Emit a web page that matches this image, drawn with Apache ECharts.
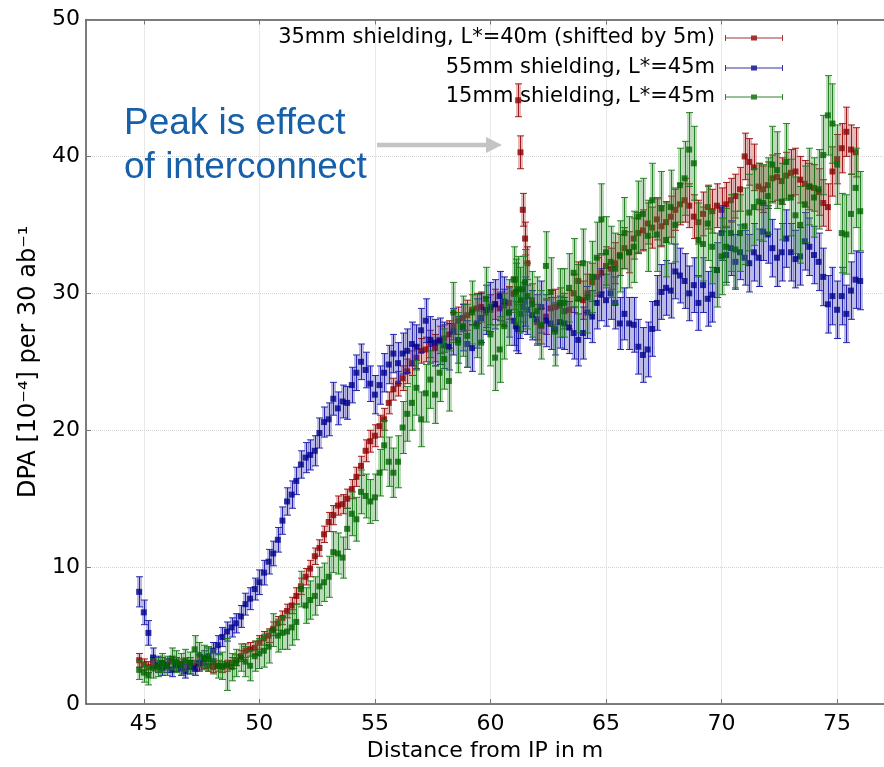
<!DOCTYPE html>
<html><head><meta charset="utf-8">
<script src="https://cdn.jsdelivr.net/npm/echarts@6/dist/echarts.min.js"></script>
<style>html,body{margin:0;padding:0;background:#fff}#c{width:884px;height:767px}</style>
</head><body><div id="c"></div>
<script>
// Distance from IP in m (bin positions)
const distance = [44.8,
45.0,45.2,45.4,45.6,45.8, 46.0,46.2,46.4,46.6,46.8, 47.0,47.2,47.4,47.6,47.8,
48.0,48.2,48.4,48.6,48.8, 49.0,49.2,49.4,49.6,49.8, 50.0,50.2,50.4,50.6,50.8,
51.0,51.2,51.4,51.6,51.8, 52.0,52.2,52.4,52.6,52.8, 53.0,53.2,53.4,53.6,53.8,
54.0,54.2,54.4,54.6,54.8, 55.0,55.2,55.4,55.6,55.8, 56.0,56.2,56.4,56.6,56.8,
57.0,57.2,57.4,57.6,57.8, 58.0,58.2,58.4,58.6,58.8, 59.0,59.2,59.4,59.6,59.8,
60.0,60.2,60.4,60.6,60.8, 61.0,61.1,61.2,61.3,61.4,61.5,61.6,61.8,
62.0,62.2,62.4,62.6,62.8, 63.0,63.2,63.4,63.6,63.8, 64.0,64.2,64.4,64.6,64.8,
65.0,65.2,65.4,65.6,65.8, 66.0,66.2,66.4,66.6,66.8, 67.0,67.2,67.4,67.6,67.8,
68.0,68.2,68.4,68.6,68.8, 69.0,69.2,69.4,69.6,69.8, 70.0,70.2,70.4,70.6,70.8,
71.0,71.2,71.4,71.6,71.8, 72.0,72.2,72.4,72.6,72.8, 73.0,73.2,73.4,73.6,73.8,
74.0,74.2,74.4,74.6,74.8, 75.0,75.2,75.4,75.6,75.8, 76.0];

// 35mm shielding, L*=40m (shifted by 5m)
const dpa35 = [3.2,
2.9,2.7,3.0,2.8,3.0, 2.9,3.1,2.8,2.9,2.8, 3.0,2.8,2.9,3.0,2.8,
2.7,2.8,2.7,2.8,3.0, 3.2,3.5,3.9,4.0,4.1, 4.5,4.8,5.0,5.5,5.9,
6.3,6.8,7.2,7.9,8.6, 9.3,9.9,10.8,11.4,12.4, 13.3,13.8,14.5,14.6,15.0,
15.7,16.6,17.4,18.5,19.2, 19.6,20.3,20.8,22.0,23.0, 23.4,23.8,24.3,24.9,25.3,
25.8,25.9,26.3,26.0,26.6, 26.7,27.0,27.6,28.0,28.2, 28.4,28.8,28.9,29.0,28.6,
28.8,29.2,28.9,29.1,29.3, 30.0,31.0,44.1,40.3,36.1,34.0,32.2,29.5,
27.9,27.6,28.3,28.9,29.0, 29.1,28.7,28.8,30.0,30.9, 29.5,30.0,30.8,31.2,31.5,
32.0,31.8,32.2,32.8,33.3, 33.0,34.0,34.4,34.6,35.1, 34.8,35.4,34.9,35.2,35.6,
36.1,36.5,36.8,36.4,35.6, 35.2,35.8,36.3,36.0,36.4, 36.1,36.5,36.8,37.1,37.6,
40.0,39.6,39.2,37.8,37.6, 37.9,38.4,38.5,38.2,38.6, 38.8,38.9,38.3,38.0,37.8,
37.7,37.4,36.6,36.3,38.9, 39.8,40.6,41.8,40.5,40.3, null];
const err35 = [0.5,
0.4,0.4,0.4,0.4,0.4, 0.4,0.4,0.4,0.4,0.4, 0.4,0.4,0.4,0.4,0.4,
0.4,0.4,0.4,0.4,0.4, 0.4,0.4,0.5,0.5,0.5, 0.5,0.5,0.5,0.5,0.5,
0.5,0.5,0.6,0.6,0.6, 0.6,0.6,0.6,0.6,0.6, 0.7,0.7,0.7,0.7,0.7,
0.7,0.7,0.7,0.8,0.8, 0.8,0.8,0.8,0.8,0.8, 0.9,0.9,0.9,0.9,0.9,
0.9,0.9,1.0,1.0,1.0, 1.0,1.0,1.0,1.0,1.0, 1.1,1.1,1.1,1.1,1.1,
1.1,1.1,1.2,1.2,1.2, 1.2,1.2,1.2,1.2,1.2,1.2,1.2,1.2,
1.3,1.3,1.3,1.3,1.3, 1.3,1.3,1.4,1.4,1.4, 1.4,1.4,1.4,1.4,1.4,
1.4,1.5,1.5,1.5,1.5, 1.5,1.5,1.5,1.5,1.5, 1.5,1.5,1.5,1.5,1.5,
1.5,1.5,1.6,1.6,1.6, 1.6,1.6,1.6,1.6,1.6, 1.6,1.6,1.6,1.6,1.6,
1.7,1.7,1.7,1.7,1.7, 1.7,1.7,1.7,1.7,1.7, 1.7,1.7,1.7,1.7,1.7,
1.7,1.7,1.7,1.7,1.8, 1.8,1.8,1.8,1.8,1.8, null];

// 55mm shielding, L*=45m
const dpa55 = [8.2,
6.7,5.2,3.4,2.9,2.6, 2.8,2.5,2.9,2.6,2.4, 2.7,2.6,3.0,3.3,3.5,
3.9,4.3,4.9,5.3,5.6, 5.9,6.4,7.3,7.7,8.4, 8.9,9.6,10.4,11.0,12.0,
13.4,14.8,15.3,16.3,17.5, 18.0,18.2,18.5,19.8,20.6, 20.8,22.3,21.6,22.1,22.0,
23.3,24.2,25.0,24.4,23.4, 22.6,23.3,24.2,24.8,25.6, 24.9,25.6,25.8,26.3,26.1,
27.3,28.0,26.6,26.4,26.5, 26.2,26.1,27.2,26.6,27.5, 26.3,26.0,27.8,28.2,28.8,
29.0,29.2,29.8,29.4,28.6, 28.0,27.6,27.4,28.5,29.0,29.4,28.8,28.4,
28.1,29.0,28.0,27.8,27.4, 27.9,27.8,27.5,27.1,26.6, 27.1,28.6,28.3,29.3,29.9,
29.5,30.0,29.3,27.8,28.5, 27.8,27.7,26.1,25.5,25.9, 27.4,29.3,30.1,30.4,30.2,
31.6,31.3,30.9,30.0,30.6, 29.3,30.6,29.6,29.9,31.7, 34.4,32.8,33.3,32.3,33.0,
32.6,32.2,33.0,32.6,34.5, 34.3,33.3,32.6,33.0,34.0, 33.0,32.5,32.7,33.8,33.4,
32.8,32.3,31.2,29.2,29.8, 28.8,29.8,28.5,30.2,31.0, 30.9];
const err55 = [1.1,
0.9,0.9,0.7,0.6,0.5, 0.5,0.5,0.5,0.5,0.5, 0.5,0.5,0.6,0.6,0.6,
0.6,0.7,0.7,0.7,0.7, 0.7,0.8,0.8,0.8,0.8, 0.9,0.9,0.9,0.9,0.9,
1.0,1.0,1.0,1.0,1.0, 1.1,1.1,1.1,1.1,1.1, 1.2,1.2,1.2,1.2,1.2,
1.3,1.3,1.3,1.3,1.3, 1.4,1.4,1.4,1.4,1.4, 1.5,1.5,1.6,1.6,1.6,
1.6,1.6,1.7,1.7,1.7, 1.7,1.7,1.7,1.7,1.7, 1.7,1.7,1.8,1.8,1.8,
1.8,1.8,1.8,1.8,1.8, 1.8,1.8,1.8,1.8,1.8,1.8,1.8,1.8,
1.8,1.9,1.9,1.9,1.9, 1.9,1.9,1.9,1.9,1.9, 1.9,1.9,1.9,1.9,1.9,
1.9,1.9,1.9,1.9,1.9, 1.9,2.0,2.0,2.0,2.0, 2.0,2.0,2.0,2.0,2.0,
2.0,2.0,2.0,2.0,2.0, 2.0,2.0,2.0,2.0,2.0, 2.0,2.0,2.0,2.0,2.0,
2.0,2.1,2.1,2.1,2.1, 2.1,2.1,2.1,2.1,2.1, 2.1,2.1,2.1,2.1,2.1,
2.1,2.1,2.1,2.1,2.1, 2.1,2.1,2.1,2.1,2.1, 2.1];

// 15mm shielding, L*=45m
const dpa15 = [2.5,
2.3,2.1,2.6,2.7,3.0, 2.8,3.3,3.1,2.9,3.2, 3.0,4.0,3.6,3.4,3.3,
3.1,2.8,2.8,2.9,2.7, 3.0,3.4,3.1,2.8,3.5, 3.7,3.9,4.2,5.4,5.0,
5.2,5.3,5.6,6.0,8.4, 7.2,7.6,7.9,8.6,8.9, 9.3,11.1,11.0,10.7,12.8,
13.9,13.5,15.5,15.2,14.8, 15.1,16.9,18.9,17.7,16.9, 17.7,20.2,21.2,22.0,23.1,
20.8,22.7,23.7,22.6,24.2, 25.2,23.6,28.6,26.4,27.6, 26.9,28.6,27.6,26.4,29.6,
27.0,25.3,25.9,27.6,28.6, 31.0,30.1,30.3,29.5,30.3,30.8,29.8,29.2,
28.7,27.7,32.0,30.1,27.2, 29.3,29.3,30.4,31.5,29.6, 32.2,29.7,31.2,32.6,35.4,
33.0,32.3,31.8,32.7,34.4, 33.0,33.4,35.6,35.8,34.2, 36.8,34.3,36.2,33.9,36.3,
35.0,37.9,38.4,40.5,39.5, 33.9,33.6,35.1,33.4,31.7, 32.7,33.4,34.4,33.2,34.4,
34.9,35.9,36.3,36.7,36.6, 37.1,39.4,39.0,36.7,39.6, 37.0,35.7,35.0,36.5,37.8,
37.0,37.6,40.1,43.0,42.4, 39.4,34.4,34.3,35.8,37.7, 36.0];
const err15 = [0.7,
0.7,0.7,0.7,0.7,0.7, 0.7,0.8,0.8,0.8,0.8, 0.8,1.0,0.9,0.9,0.9,
0.9,0.9,1.0,1.9,1.0, 1.0,1.0,1.1,1.1,1.1, 1.1,1.2,1.2,1.2,1.2,
1.2,1.3,1.3,1.3,1.3, 1.3,1.4,1.4,1.4,1.4, 1.5,1.5,1.5,1.5,1.5,
1.6,1.6,1.6,1.6,1.6, 1.7,1.7,1.8,1.8,1.8, 1.9,1.9,2.0,2.0,2.0,
2.0,2.1,2.1,2.1,2.1, 2.2,2.2,2.2,2.2,2.2, 2.3,2.3,2.3,2.3,2.3,
2.3,2.4,2.4,2.4,2.4, 2.4,2.4,2.4,2.4,2.4,2.4,2.4,2.4,
2.5,2.5,2.5,2.5,2.5, 2.5,2.5,2.5,2.5,2.5, 2.5,2.6,2.6,2.6,2.6,
2.6,2.6,2.6,2.6,2.6, 2.6,2.6,2.6,2.6,2.6, 2.7,2.7,2.7,2.7,2.7,
2.7,2.7,2.7,2.7,2.7, 2.7,2.7,2.7,2.7,2.7, 2.8,2.8,2.8,2.8,2.8,
2.8,2.8,2.8,2.8,2.8, 2.8,2.8,2.8,2.8,2.8, 2.8,2.8,2.8,2.8,2.8,
2.9,2.9,2.9,2.9,2.9, 2.9,2.9,2.9,2.9,2.9, 2.9];

const seriesNames = ['35mm shielding, L*=40m (shifted by 5m)', '55mm shielding, L*=45m', '15mm shielding, L*=45m'];
const xAxisTitle = 'Distance from IP in m';
const yAxisTitle = 'DPA [10\u207B\u2074] per 30 ab\u207B\u00B9';
const noteText = 'Peak is effect\nof interconnect';

function toPoints(ys, es) {
  const out = [];
  for (let i = 0; i < distance.length; i++) {
    if (ys[i] != null) out.push([distance[i], ys[i], es[i]]);
  }
  return out;
}

const sets = [
  { name: seriesNames[0], pts: toPoints(dpa35, err35), dark: '#8b0000', line: 'rgba(150,10,10,0.9)', band: 'rgba(170,40,40,0.32)' },
  { name: seriesNames[1], pts: toPoints(dpa55, err55), dark: '#00008b', line: 'rgba(20,20,170,0.9)', band: 'rgba(40,40,170,0.32)' },
  { name: seriesNames[2], pts: toPoints(dpa15, err15), dark: '#006400', line: 'rgba(20,120,20,0.9)', band: 'rgba(40,140,40,0.32)' }
];

function errRender(lineColor, bandColor) {
  return function (params, api) {
    const x = api.value(0), y = api.value(1), e = api.value(2);
    const top = api.coord([x, y + e]);
    const bot = api.coord([x, y - e]);
    const cx = Math.round(top[0]) + 0.5;
    return {
      type: 'group',
      children: [
        { type: 'rect', shape: { x: cx - 2.5, y: top[1], width: 5, height: bot[1] - top[1] }, style: { fill: bandColor } },
        { type: 'line', shape: { x1: cx, y1: top[1], x2: cx, y2: bot[1] }, style: { stroke: lineColor, lineWidth: 1 } },
        { type: 'line', shape: { x1: cx - 3.5, y1: top[1], x2: cx + 3.5, y2: top[1] }, style: { stroke: lineColor, lineWidth: 1 } },
        { type: 'line', shape: { x1: cx - 3.5, y1: bot[1], x2: cx + 3.5, y2: bot[1] }, style: { stroke: lineColor, lineWidth: 1 } }
      ]
    };
  };
}

const series = [];
sets.forEach(function (s, i) {
  series.push({
    type: 'custom', name: s.name + ' err', data: s.pts, encode: { x: 0, y: 1 },
    renderItem: errRender(s.line, s.band), z: 2 + i * 2, silent: true
  });
  series.push({
    type: 'scatter', name: s.name, data: s.pts, encode: { x: 0, y: 1 },
    symbol: 'rect', symbolSize: 6, itemStyle: { color: s.dark }, z: 3 + i * 2, silent: true
  });
});

const iconPath = 'path://M0,3.5L58,3.5L58,4.5L0,4.5Z M0,1L1,1L1,7L0,7Z M57,1L58,1L58,7L57,7Z M26,1.5L32,1.5L32,6.5L26,6.5Z';
const legendTops = [25.5, 55.5, 84.5];
const legends = seriesNames.map(function (n, i) {
  return {
    orient: 'vertical', right: 101, top: legendTops[i], align: 'right',
    itemWidth: 58, itemHeight: 8, selectedMode: false, padding: 0,
    textStyle: { fontFamily: 'DejaVu Sans', fontSize: 21, color: '#000', lineHeight: 25, padding: [0, 5, 0, 0] },
    data: [{ name: n, icon: iconPath }]
  };
});

const chart = echarts.init(document.getElementById('c'), null, { renderer: 'canvas' });
chart.setOption({
  animation: false,
  backgroundColor: '#fff',
  grid: { left: 86, right: 0, top: 19.5, bottom: 61.5, containLabel: false },
  legend: legends,
  xAxis: [{
    type: 'value', min: 42.5, max: 77.03, minInterval: 5, maxInterval: 5,
    name: xAxisTitle, nameLocation: 'middle', nameGap: 35,
    nameTextStyle: { fontFamily: 'DejaVu Sans', fontSize: 22, color: '#000' },
    axisLine: { show: true, onZero: false, lineStyle: { color: '#555', width: 1.5 } },
    axisTick: { show: true, inside: true, length: 5, lineStyle: { color: '#777' } },
    axisLabel: { fontFamily: 'DejaVu Sans', fontSize: 22, color: '#000', margin: 9, showMinLabel: false, showMaxLabel: false },
    splitLine: { show: true, lineStyle: { color: '#d4d4d4', type: 'dotted', width: 1 } }
  }, {
    type: 'value', position: 'top', min: 42.5, max: 77.03, minInterval: 5, maxInterval: 5,
    axisLine: { show: true, onZero: false, lineStyle: { color: '#555', width: 1.5 } },
    axisTick: { show: true, inside: true, length: 5, lineStyle: { color: '#777' } },
    axisLabel: { show: false }, splitLine: { show: false }
  }],
  yAxis: {
    type: 'value', min: 0, max: 50, interval: 10,
    name: yAxisTitle, nameLocation: 'middle', nameGap: 38, nameRotate: 90,
    nameTextStyle: { fontFamily: 'DejaVu Sans', fontSize: 24, color: '#000' },
    axisLine: { show: true, lineStyle: { color: '#555', width: 1.5 } },
    axisTick: { show: true, inside: true, length: 5, lineStyle: { color: '#777' } },
    axisLabel: { fontFamily: 'DejaVu Sans', fontSize: 22, color: '#000', margin: 6 },
    splitLine: { show: true, lineStyle: { color: '#d4d4d4', type: 'dotted', width: 1 } }
  },
  series: series,
  graphic: [
    { type: 'text', left: 124, top: 102, z: 20,
      style: { text: noteText, fill: '#1660a9', font: '37px "Liberation Sans", Arial, sans-serif', lineHeight: 44 } },
    { type: 'line', z: 20, shape: { x1: 377, y1: 145, x2: 488, y2: 145 }, style: { stroke: '#c4c4c4', lineWidth: 4.5 } },
    { type: 'polygon', z: 20, shape: { points: [[486, 137], [502, 145], [486, 153]] }, style: { fill: '#c4c4c4' } }
  ]
});
</script>
</body></html>
